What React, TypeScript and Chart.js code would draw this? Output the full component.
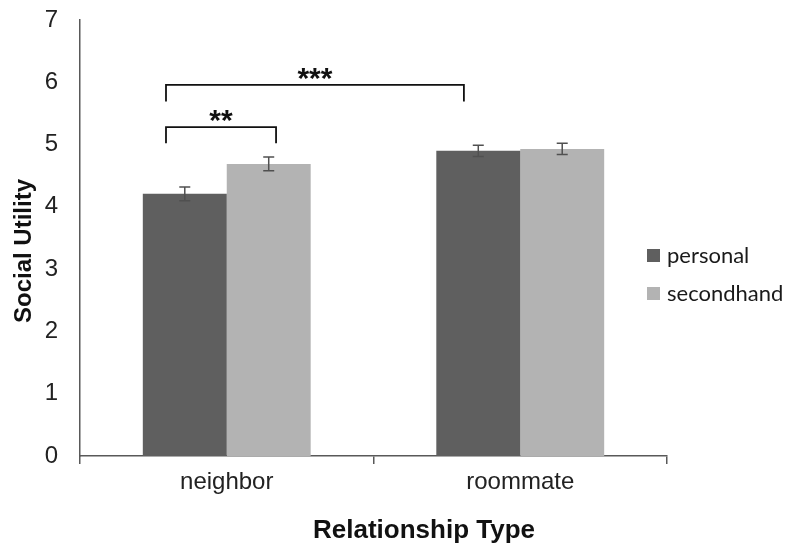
import React, { useEffect, useRef } from "react";
import { Chart, registerables } from "chart.js";

Chart.register(...registerables);

const categories = ["neighbor", "roommate"];
const seriesNames = ["personal", "secondhand"];
const personal = [4.21, 4.9];
const secondhand = [4.69, 4.93];
const personalErr = [0.11, 0.09];
const secondhandErr = [0.11, 0.09];
const yTicks = [0, 1, 2, 3, 4, 5, 6, 7];
const xTitle = "Relationship Type";
const yTitle = "Social Utility";
// significance brackets: ends on the category axis, bar level, leg level
const bracketLabels = ["**", "***"];
const bracketStart = [-0.207, -0.207];
const bracketEnd = [0.168, 0.808];
const bracketTop = [5.28, 5.96];
const bracketLeg = [5.02, 5.69];

const colors = ["#5f5f5f", "#b3b3b3"];
const axisColor = "#595959";
const sans = "'Liberation Sans', Arial, sans-serif";

const overlayPlugin = {
  id: "overlay",
  afterDatasetsDraw(chart: any) {
    const ctx = chart.ctx;
    const y = chart.scales.y;
    const x = chart.scales.x;
    const errs = [personalErr, secondhandErr];
    const vals = [personal, secondhand];
    ctx.save();
    // error bars
    ctx.strokeStyle = "#505050";
    ctx.lineWidth = 1.5;
    for (let d = 0; d < 2; d++) {
      const meta = chart.getDatasetMeta(d);
      meta.data.forEach((bar: any, i: number) => {
        const bx = bar.x;
        const top = y.getPixelForValue(vals[d][i] + errs[d][i]);
        const bot = y.getPixelForValue(vals[d][i] - errs[d][i]);
        ctx.beginPath();
        ctx.moveTo(bx, top);
        ctx.lineTo(bx, bot);
        ctx.moveTo(bx - 5.5, top);
        ctx.lineTo(bx + 5.5, top);
        ctx.moveTo(bx - 5.5, bot);
        ctx.lineTo(bx + 5.5, bot);
        ctx.stroke();
      });
    }
    // brackets
    ctx.strokeStyle = "#111";
    ctx.lineWidth = 1.8;
    ctx.fillStyle = "#111";
    ctx.font = "bold 30px " + sans;
    ctx.textAlign = "center";
    ctx.textBaseline = "middle";
    for (let b = 0; b < bracketLabels.length; b++) {
      const x1 = x.getPixelForValue(bracketStart[b]);
      const x2 = x.getPixelForValue(bracketEnd[b]);
      const yt = y.getPixelForValue(bracketTop[b]);
      const yl = y.getPixelForValue(bracketLeg[b]);
      ctx.beginPath();
      ctx.moveTo(x1, yl);
      ctx.lineTo(x1, yt);
      ctx.lineTo(x2, yt);
      ctx.lineTo(x2, yl);
      ctx.stroke();
      ctx.fillText(bracketLabels[b], (x1 + x2) / 2, yt - 5);
    }
    // legend
    ctx.font = "22px Lato, 'Open Sans', sans-serif";
    ctx.textAlign = "left";
    ctx.textBaseline = "middle";
    const legendX = 647;
    const legendY = [255.5, 293.5];
    for (let d = 0; d < 2; d++) {
      ctx.fillStyle = colors[d];
      ctx.fillRect(legendX, legendY[d] - 6.5, 13, 13);
      ctx.fillStyle = "#1a1a1a";
      ctx.fillText(seriesNames[d], legendX + 20, legendY[d]);
    }
    // axis titles
    ctx.fillStyle = "#111";
    ctx.font = "bold 26px " + sans;
    ctx.textAlign = "center";
    ctx.textBaseline = "alphabetic";
    ctx.fillText(xTitle, 424, 538);
    ctx.save();
    ctx.translate(31, 251);
    ctx.rotate(-Math.PI / 2);
    ctx.font = "bold 24px " + sans;
    ctx.fillText(yTitle, 0, 0);
    ctx.restore();
    ctx.restore();
  },
};

export default function App() {
  const ref = useRef<HTMLCanvasElement>(null);
  useEffect(() => {
    if (!ref.current) return;
    const chart = new Chart(ref.current, {
      type: "bar",
      data: {
        labels: categories,
        datasets: [
          { label: seriesNames[0], data: personal, backgroundColor: colors[0] },
          { label: seriesNames[1], data: secondhand, backgroundColor: colors[1] },
        ],
      },
      options: {
        animation: false,
        responsive: true,
        maintainAspectRatio: false,
        layout: { padding: { top: 20, right: 121, left: 8, bottom: 5 } },
        datasets: { bar: { categoryPercentage: 0.572, barPercentage: 1 } },
        plugins: { legend: { display: false }, tooltip: { enabled: false } },
        scales: {
          x: {
            afterFit: (scale: any) => {
              scale.height = 82;
              scale.paddingLeft = 0;
              scale.paddingRight = 0;
            },
            grid: {
              display: true,
              drawOnChartArea: false,
              tickLength: 8,
              color: axisColor,
              lineWidth: 1.5,
            },
            border: { display: true, color: axisColor, width: 1.5 },
            ticks: {
              color: "#222",
              font: { size: 24, family: sans },
              padding: 4,
            },
            title: { display: false, text: xTitle },
          },
          y: {
            min: 0,
            max: 7,
            afterBuildTicks: (scale: any) => {
              scale.ticks = yTicks.map((v) => ({ value: v }));
            },
            afterFit: (scale: any) => {
              scale.width = 72;
              scale.paddingTop = 0;
              scale.paddingBottom = 0;
            },
            grid: { display: false, drawTicks: false },
            border: { display: true, color: axisColor, width: 1.5 },
            ticks: {
              color: "#222",
              font: { size: 24, family: sans },
              padding: 22,
            },
            title: { display: false, text: yTitle },
          },
        },
      },
      plugins: [overlayPlugin],
    });
    return () => chart.destroy();
  }, []);
  return (
    <div style={{ position: "fixed", left: 0, top: 0, width: 788, height: 543 }}>
      <canvas ref={ref} />
    </div>
  );
}
